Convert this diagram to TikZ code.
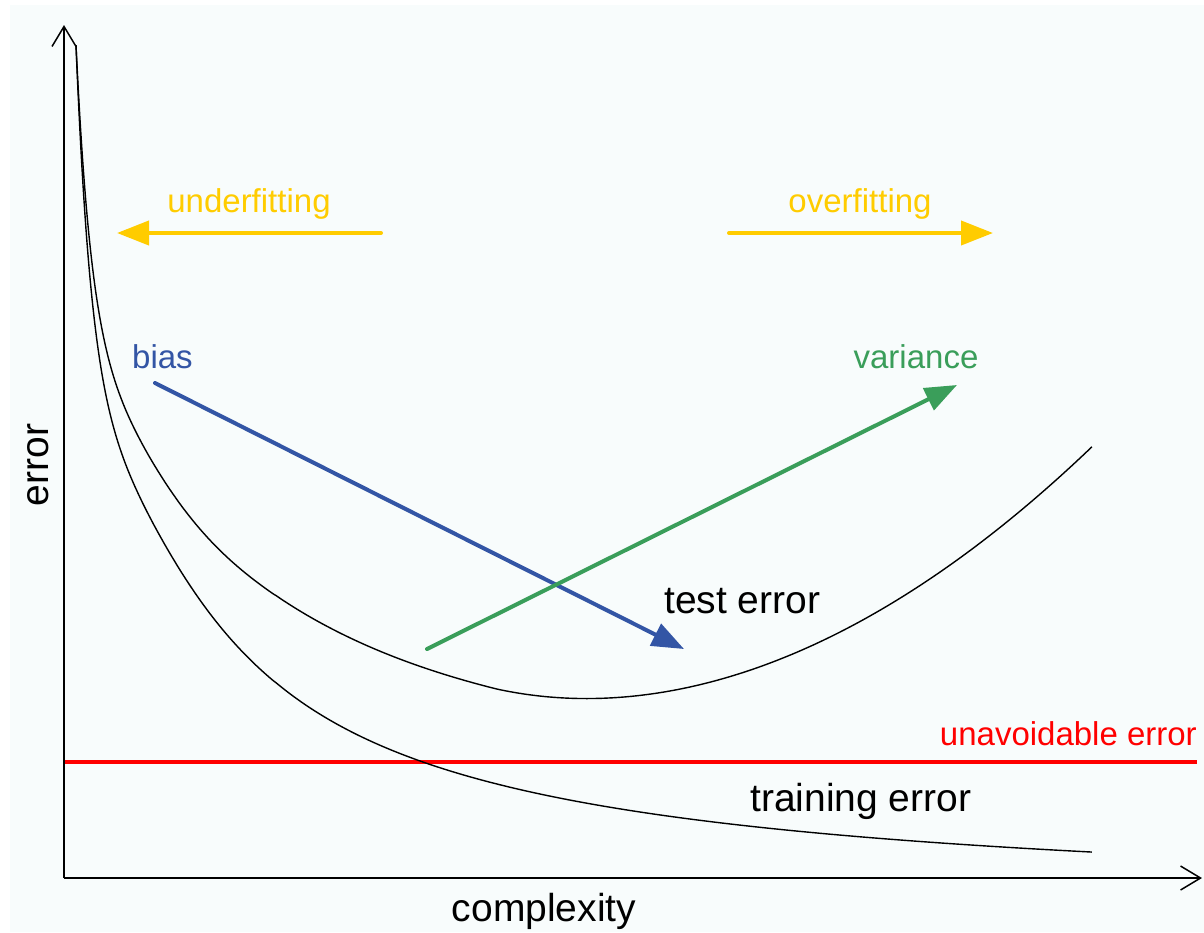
\documentclass[tikz,border=0pt]{standalone}
\usepackage{fontspec}
\setmainfont{Liberation Sans}
\usetikzlibrary{arrows.meta}
\definecolor{bgc}{RGB}{248,252,252}
\definecolor{yel}{RGB}{255,204,0}
\definecolor{blu}{RGB}{51,85,165}
\definecolor{grn}{RGB}{58,158,90}
\definecolor{errred}{RGB}{255,0,0}
\begin{document}
\begin{tikzpicture}[x=1pt,y=-1pt,
  declare function={
    Tr(\u)=610.01/(\u+70.7)*100-30-12.15*\u*exp(-\u/22);
    Dv(\u)=50*(1-exp(-\u/15))+45/(1+exp(-(\u-130)/45))-2.4*exp(-\u/15)+820*(max(0,\u-420)/1000)^2+0.032*max(0,\u-420);
  },
  axis/.style={line width=1.5pt,-{Straight Barb[length=20pt,width=24pt]}},
  curve/.style={line width=1.4pt,black,line join=round},
  trend/.style={line width=4pt,line cap=round,-{Triangle[length=32pt,width=24pt]}},
  lbl/.style={inner sep=0pt,font=\fontsize{33}{40}\selectfont},
  big/.style={inner sep=0pt,font=\fontsize{39}{46}\selectfont}]
\useasboundingbox (0,0) rectangle (1204,932);
\fill[white] (0,0) rectangle (1204,932);
\fill[bgc] (10,5) rectangle (1204,932);

% axes
\coordinate (O) at (64,878);
\coordinate (ytip) at (64,25);
\coordinate (xtip) at (1202,878);

% unavoidable error line
\coordinate (r1) at (64,762);
\coordinate (r2) at (1197,762);
\draw[line width=4pt,errred] (r1) -- (r2);

% training error curve
\draw[curve] plot[domain=0:1,samples=400,variable=\t]
  ({76+1019*\t*\t},{878-Tr(1019*\t*\t)});

% test error curve
\draw[curve] plot[domain=0:1,samples=400,variable=\t]
  ({76+1019*\t*\t},{878-Tr(1019*\t*\t)-Dv(1019*\t*\t)});

\draw[axis] (O) -- (ytip);
\draw[axis] (O) -- (xtip);

% trend arrows
\coordinate (u1) at (381,233);
\coordinate (u2) at (117,233);
\coordinate (o1) at (729,233);
\coordinate (o2) at (993,233);
\coordinate (b1) at (155,383);
\coordinate (b2) at (684,649);
\coordinate (g1) at (427,649);
\coordinate (g2) at (957,385);
\draw[trend,yel] (u1) -- (u2);
\draw[trend,yel] (o1) -- (o2);
\draw[trend,blu] (b1) -- (b2);
\draw[trend,grn] (g1) -- (g2);

% labels
\node[lbl,yel,anchor=base] (under) at (249,212) {underfitting};
\node[lbl,yel,anchor=base] (over) at (860,212) {overfitting};
\node[lbl,blu,anchor=base west] (bias) at (132,368) {bias};
\node[lbl,grn,anchor=base] (var) at (916,368) {variance};
\node[lbl,errred,anchor=base east] (unav) at (1197,745) {unavoidable error};
\node[big,anchor=base west] (test) at (664,613) {test error};
\node[big,anchor=base west] (train) at (750,811) {training error};
\node[big,anchor=base] (cx) at (544,921) {complexity};
\node[big,anchor=base,rotate=90] (err) at (48,465) {error};
\end{tikzpicture}
\end{document}
